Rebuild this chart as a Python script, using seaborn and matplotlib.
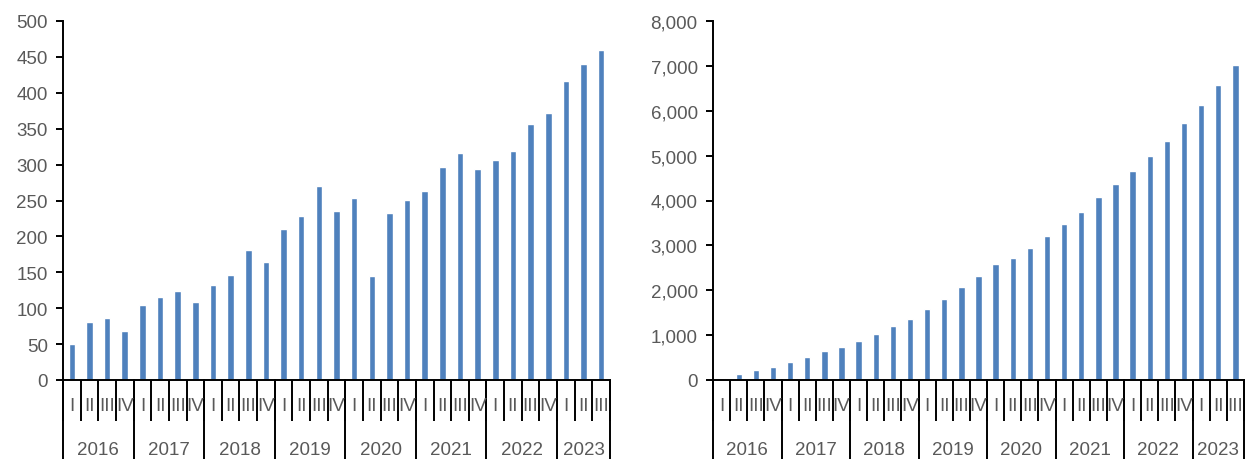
import numpy as np
import pandas as pd
import matplotlib
matplotlib.use("Agg")
import matplotlib.pyplot as plt
import matplotlib.transforms as mtransforms
from matplotlib.ticker import FuncFormatter
import seaborn as sns

years = ["2016", "2017", "2018", "2019", "2020", "2021", "2022", "2023"]
quarters_per_year = [4, 4, 4, 4, 4, 4, 4, 3]
quarter_names = ["I", "II", "III", "IV"]

left_values = [50, 81, 86, 68,
               104, 116, 124, 108,
               133, 146, 181, 164,
               211, 229, 270, 236,
               254, 145, 232, 251,
               263, 296, 316, 294,
               307, 319, 356, 372,
               416, 440, 460]

right_values = [52, 134, 223, 290,
                395, 521, 640, 745,
                879, 1028, 1206, 1370,
                1586, 1809, 2077, 2316,
                2577, 2718, 2949, 3202,
                3470, 3739, 4067, 4358,
                4664, 4985, 5336, 5716,
                6127, 6575, 7030]

left_ticks = list(range(0, 501, 50))
right_ticks = list(range(0, 8001, 1000))

labels = []
qlabels = []
for y, nq in zip(years, quarters_per_year):
    for q in range(nq):
        labels.append(f"{y}-{quarter_names[q]}")
        qlabels.append(quarter_names[q])

df_left = pd.DataFrame({"period": labels, "value": left_values})
df_right = pd.DataFrame({"period": labels, "value": right_values})

sns.set_theme(style="white")
plt.rcParams["font.family"] = ["Liberation Sans", "DejaVu Sans"]

BAR = "#4F81BD"
TXT = "#595959"
FS = 13.5

fig = plt.figure(figsize=(12.46, 4.6), dpi=100)
H = 460.0
W = 1246.0
ax1 = fig.add_axes([63 / W, 1 - 381 / H, (610 - 63) / W, (381 - 22) / H])
ax2 = fig.add_axes([713 / W, 1 - 381 / H, (1244 - 713) / W, (381 - 22) / H])


def style(ax, df, ticks, fmt):
    sns.barplot(data=df, x="period", y="value", color=BAR, width=0.37,
                saturation=1, ax=ax, order=labels)
    n = len(labels)
    ax.set_xlim(-0.5, n - 0.5)
    ax.set_ylim(ticks[0], ticks[-1])
    ax.set_yticks(ticks)
    ax.yaxis.set_major_formatter(FuncFormatter(fmt))
    ax.set_xlabel("")
    ax.set_ylabel("")
    for s in ["top", "right"]:
        ax.spines[s].set_visible(False)
    for s in ["left", "bottom"]:
        ax.spines[s].set_color("black")
        ax.spines[s].set_linewidth(1.4)
    ax.tick_params(axis="y", which="major", direction="out", length=5,
                   width=1.4, color="black", labelcolor=TXT, labelsize=FS, pad=6,
                   left=True)
    # quarter boundary ticks
    ax.set_xticks(np.arange(-0.5, n, 1.0))
    ax.set_xticklabels([""] * (n + 1))
    ax.tick_params(axis="x", which="major", direction="out", length=29.5,
                   width=1.4, color="black", bottom=True)
    trans = mtransforms.blended_transform_factory(ax.transData, ax.transAxes)
    hpx = 359.0
    # quarter labels
    for i, q in enumerate(qlabels):
        ax.text(i, -26 / hpx, q, transform=trans, ha="center", va="center",
                fontsize=FS, color=TXT)
    # year separators and labels
    start = 0
    for y, nq in zip(years, quarters_per_year):
        ax.plot([start - 0.5, start - 0.5], [0, -85 / hpx], transform=trans,
                color="black", lw=1.4, clip_on=False)
        ax.text(start + (nq - 1) / 2, -70 / hpx, y, transform=trans,
                ha="center", va="center", fontsize=FS, color=TXT)
        start += nq
    ax.plot([start - 0.5, start - 0.5], [0, -85 / hpx], transform=trans,
            color="black", lw=1.4, clip_on=False)


style(ax1, df_left, left_ticks, lambda v, p: f"{int(v)}")
style(ax2, df_right, right_ticks, lambda v, p: f"{int(v):,}")

fig.savefig("out.png", dpi=100)
